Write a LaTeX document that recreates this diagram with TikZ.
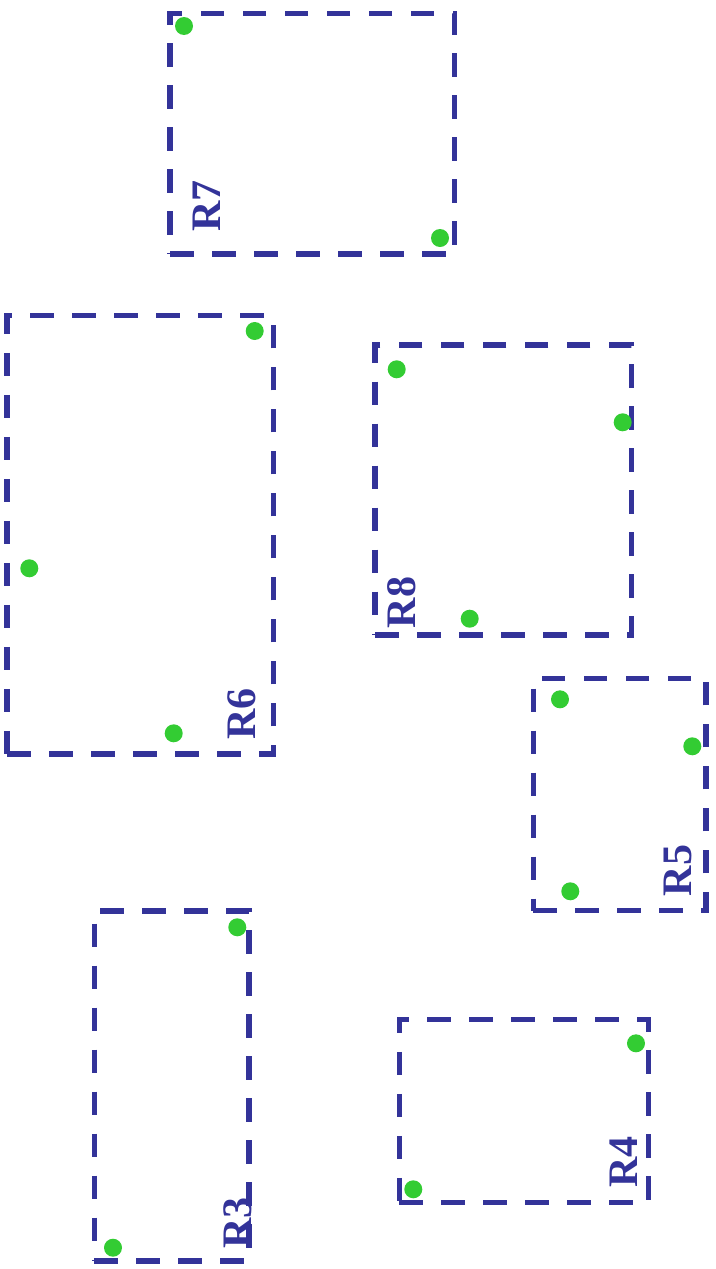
\documentclass[tikz,border=0pt]{standalone}
\usepackage{fontspec}
\setmainfont{Liberation Serif}
\definecolor{regblue}{RGB}{51,51,153}
\definecolor{ptgreen}{RGB}{51,204,51}
\begin{document}
\begin{tikzpicture}[x=1pt,y=-1pt,
  regbox/.style={draw=regblue,line width=5.3pt,dash pattern=on 23.5pt off 18.5pt},
  reglabel/.style={text=regblue,font=\fontsize{42}{42}\selectfont\bfseries,rotate=90,anchor=base west,inner sep=0pt},
  ptdot/.style={fill=ptgreen}]
\useasboundingbox (0,0) rectangle (715,1269);
% R7
\draw[regbox] (170,254) -- (454.7,254) -- (454.7,13.3) -- (170,13.3) -- cycle;
\fill[ptdot] (184,26) circle (9);
\fill[ptdot] (440,238) circle (9);
\node[reglabel] (r7) at (220.7,232) {R7};
% R6
\draw[regbox] (7,754) -- (273.3,754) -- (273.3,315.7) -- (7,315.7) -- cycle;
\fill[ptdot] (29.3,568.3) circle (9);
\fill[ptdot] (254.7,331) circle (9);
\fill[ptdot] (173.7,733.3) circle (9);
\node[reglabel] (r6) at (255,740) {R6};
% R8
\draw[regbox] (375,635) -- (631.7,635) -- (631.7,345) -- (375,345) -- cycle;
\fill[ptdot] (396.7,369.3) circle (9);
\fill[ptdot] (622.7,422.3) circle (9);
\fill[ptdot] (469.7,618.7) circle (9);
\node[reglabel] (r8) at (415,628.5) {R8};
% R5
\draw[regbox] (533.3,910.7) -- (706,910.7) -- (706,678.3) -- (533.3,678.3) -- cycle;
\fill[ptdot] (560,699.3) circle (9);
\fill[ptdot] (692.3,746.3) circle (9);
\fill[ptdot] (570.3,891.3) circle (9);
\node[reglabel] (r5) at (691.7,896.5) {R5};
% R4
\draw[regbox] (399.3,1202.7) -- (648.3,1202.7) -- (648.3,1019.3) -- (399.3,1019.3) -- cycle;
\fill[ptdot] (636,1043.3) circle (9);
\fill[ptdot] (413.3,1189.3) circle (9);
\node[reglabel] (r4) at (637.3,1188) {R4};
% R3
\draw[regbox] (94.3,1261) -- (249,1261) -- (249,911) -- (94.3,911) -- cycle;
\fill[ptdot] (237.3,927.3) circle (9);
\fill[ptdot] (113,1247.7) circle (9);
\node[reglabel] (r3) at (251.7,1249) {R3};
\end{tikzpicture}
\end{document}
